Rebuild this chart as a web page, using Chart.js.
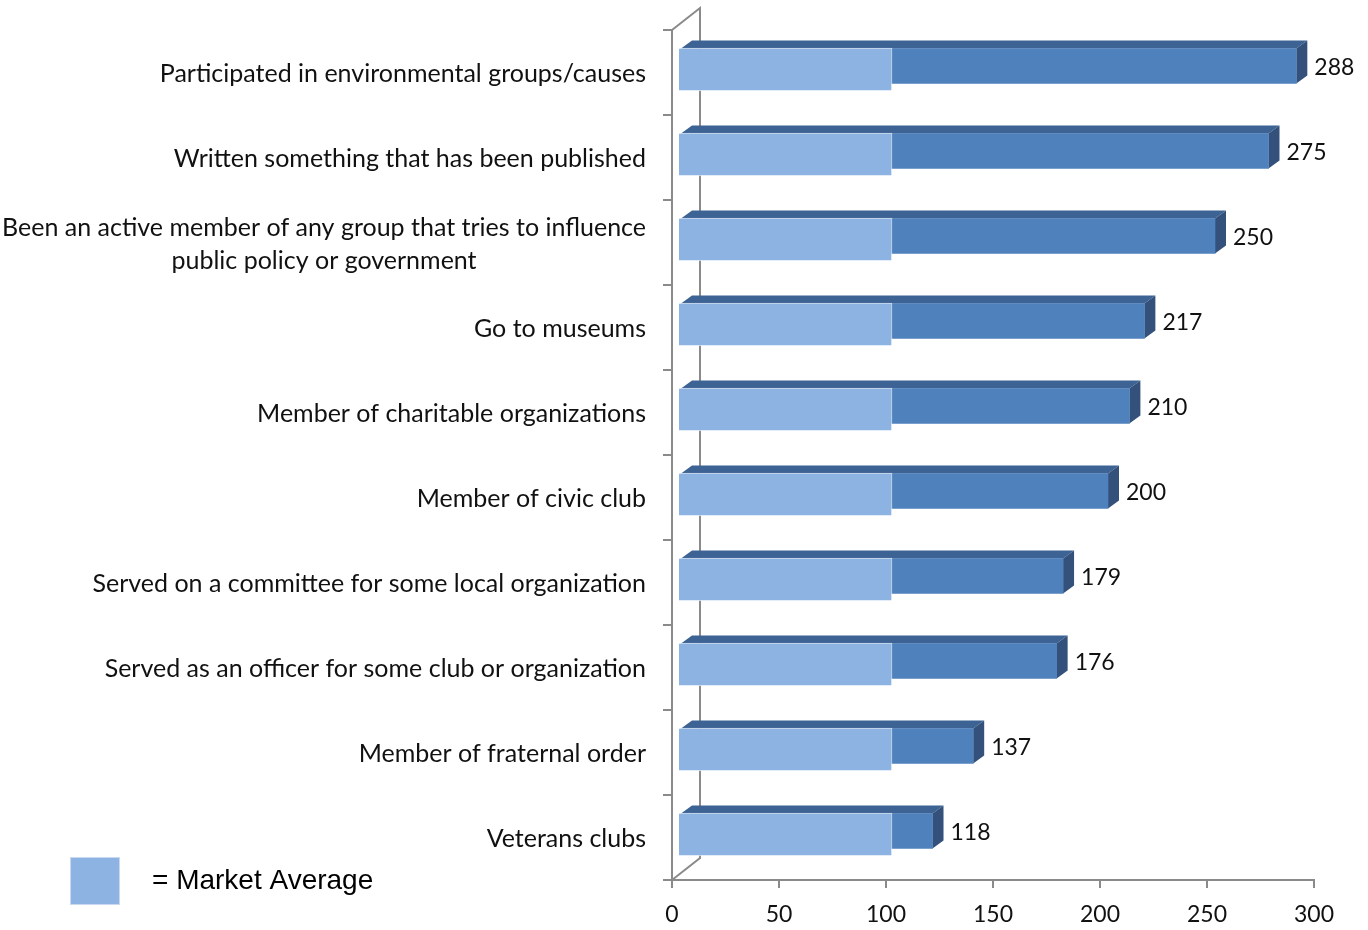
<!DOCTYPE html>
<html>
<head>
<meta charset="utf-8">
<script src="https://cdn.jsdelivr.net/npm/chart.js@4.4.1/dist/chart.umd.min.js"></script>
<style>
  html, body { margin: 0; padding: 0; background: #fff; }
  #wrap { width: 1368px; height: 930px; }
</style>
</head>
<body>
<div id="wrap"><canvas id="chart"></canvas></div>
<script>
// data
const categories = [
  'Participated in environmental groups/causes',
  'Written something that has been published',
  ['Been an active member of any group that tries to influence', 'public policy or government'],
  'Go to museums',
  'Member of charitable organizations',
  'Member of civic club',
  'Served on a committee for some local organization',
  'Served as an officer for some club or organization',
  'Member of fraternal order',
  'Veterans clubs'
];
const indexValues = [288, 275, 250, 217, 210, 200, 179, 176, 137, 118];
const marketAverage = [100, 100, 100, 100, 100, 100, 100, 100, 100, 100];
const legendText = '= Market Average';

const LIGHT = '#8db3e2';
const DARK = '#4f81bd';
const DARK_TOP = '#3d6294';
const DARK_SIDE = '#33517a';
const AXIS = '#8a8a8a';
const LABEL_FONT = '25px Lato';

// bars sit a little behind the front frame (3D depth)
const barShift = [{ x: 6, y: -3 }, { x: 8, y: -6.5 }];
const depth = { dx: 11, dy: -8 };

const threeD = {
  id: 'threeD',
  beforeDatasetsDraw(chart) {
    const { ctx, chartArea: a } = chart;
    // back wall and the two diagonals of the frame
    ctx.save();
    ctx.strokeStyle = AXIS;
    ctx.lineWidth = 2;
    ctx.beginPath();
    ctx.moveTo(a.left, a.top);
    ctx.lineTo(a.left + 28, a.top - 22);
    ctx.lineTo(a.left + 28, a.bottom - 22);
    ctx.lineTo(a.left, a.bottom);
    ctx.stroke();
    ctx.restore();
  },
  beforeDatasetDraw(chart, args) {
    const ctx = chart.ctx;
    const s = barShift[args.index];
    ctx.save();
    ctx.translate(s.x, s.y);
    if (args.index === 1) {
      args.meta.data.forEach(el => {
        const p = el.getProps(['x', 'y', 'base', 'height'], true);
        const top = p.y - p.height / 2, bot = p.y + p.height / 2;
        ctx.fillStyle = DARK_TOP;
        ctx.beginPath();
        ctx.moveTo(p.base, top);
        ctx.lineTo(p.x, top);
        ctx.lineTo(p.x + depth.dx, top + depth.dy);
        ctx.lineTo(p.base + depth.dx, top + depth.dy);
        ctx.closePath();
        ctx.fill();
        ctx.fillStyle = DARK_SIDE;
        ctx.beginPath();
        ctx.moveTo(p.x, top);
        ctx.lineTo(p.x + depth.dx, top + depth.dy);
        ctx.lineTo(p.x + depth.dx, bot + depth.dy);
        ctx.lineTo(p.x, bot);
        ctx.closePath();
        ctx.fill();
      });
    }
  },
  afterDatasetDraw(chart) {
    chart.ctx.restore();
  },
  afterDatasetsDraw(chart) {
    const { ctx } = chart;
    const yScale = chart.scales.y;
    ctx.save();
    ctx.fillStyle = '#111';
    // category labels, right aligned block, lines centred inside it
    ctx.font = LABEL_FONT;
    ctx.textBaseline = 'middle';
    ctx.textAlign = 'center';
    const right = chart.chartArea.left - 26;
    categories.forEach((c, i) => {
      const lines = Array.isArray(c) ? c : [c];
      const w = Math.max(...lines.map(l => ctx.measureText(l).width));
      const cy = yScale.getPixelForTick(i) + 1.5;
      const lh = 33;
      lines.forEach((l, k) => {
        ctx.fillText(l, right - w / 2, cy + (k - (lines.length - 1) / 2) * lh);
      });
    });
    // value labels beside the dark bars
    ctx.font = '23px Lato';
    ctx.textAlign = 'left';
    const s = barShift[1];
    chart.getDatasetMeta(1).data.forEach((el, i) => {
      ctx.fillText(String(indexValues[i]), el.x + s.x + depth.dx + 7, el.y + s.y + 2);
    });
    // legend swatch
    ctx.fillStyle = LIGHT;
    ctx.fillRect(70, 857, 50, 48);
    ctx.strokeStyle = '#c9daf0';
    ctx.lineWidth = 1;
    ctx.strokeRect(70.5, 857.5, 49, 47);
    ctx.fillStyle = '#000';
    ctx.font = '28px "Liberation Sans"';
    ctx.fillText(legendText, 152, 881);
    ctx.restore();
  }
};

new Chart(document.getElementById('chart'), {
  type: 'bar',
  data: {
    labels: categories,
    datasets: [
      {
        label: 'Market Average',
        data: marketAverage,
        backgroundColor: LIGHT,
        borderColor: 'rgba(255,255,255,0.7)',
        borderWidth: 1,
        barThickness: 43,
        grouped: false,
        clip: false
      },
      {
        label: 'Index',
        data: indexValues,
        backgroundColor: DARK,
        borderWidth: 0,
        barThickness: 35,
        grouped: false,
        clip: false
      }
    ]
  },
  options: {
    indexAxis: 'y',
    responsive: true,
    maintainAspectRatio: false,
    animation: false,
    layout: { padding: { top: 30, right: 54, bottom: 0, left: 0 } },
    plugins: {
      legend: { display: false },
      tooltip: { enabled: false }
    },
    scales: {
      x: {
        min: 0,
        max: 300,
        ticks: {
          stepSize: 50,
          color: '#111',
          font: { family: 'Lato', size: 23 },
          padding: 13
        },
        grid: { drawOnChartArea: false, color: AXIS, lineWidth: 2, tickLength: 8 },
        border: { color: AXIS, width: 2 },
        afterFit(scale) { scale.height = 50; }
      },
      y: {
        ticks: { display: false },
        grid: { drawOnChartArea: false, offset: true, color: AXIS, lineWidth: 2, tickLength: 9 },
        border: { color: AXIS, width: 2 },
        afterFit(scale) { scale.width = 672; }
      }
    }
  },
  plugins: [threeD]
});
</script>
</body>
</html>
